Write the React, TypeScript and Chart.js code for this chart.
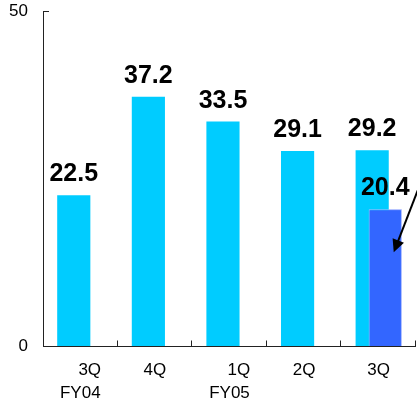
import React, { useEffect, useRef } from "react";
import { Chart, registerables } from "chart.js";

Chart.register(...registerables);

const categories: string[][] = [["    3Q", "FY04"], ["4Q"], ["    1Q", "FY05"], ["2Q"], ["3Q"]];
const mainValues: (number | null)[] = [22.5, 37.2, 33.5, 29.1, 29.2];
const subValues: (number | null)[] = [null, null, null, null, 20.4];
const yTicks: number[] = [0, 50];

const FONT = "'Liberation Sans', Arial, Helvetica, sans-serif";

const axesPlugin = {
  id: "customAxes",
  afterDraw(chart: any) {
    const ctx = chart.ctx;
    const area = chart.chartArea;
    const xs = chart.scales.x;
    const ys = chart.scales.y;
    ctx.save();
    ctx.strokeStyle = "#222";
    ctx.lineWidth = 1;
    const y0 = Math.round(ys.getPixelForValue(0)) + 0.5;
    const yTop = Math.round(ys.getPixelForValue(50)) + 0.5;
    const xl = Math.round(area.left) + 0.5;
    ctx.beginPath();
    ctx.moveTo(xl, yTop);
    ctx.lineTo(xl, y0);
    ctx.lineTo(area.right, y0);
    ctx.stroke();
    yTicks.forEach((v) => {
      const y = Math.round(ys.getPixelForValue(v)) + 0.5;
      ctx.beginPath();
      ctx.moveTo(area.left, y);
      ctx.lineTo(area.left + 6, y);
      ctx.stroke();
    });
    const n = categories.length;
    const step = xs.getPixelForValue(1) - xs.getPixelForValue(0);
    for (let i = 1; i <= n; i++) {
      let x = xs.getPixelForValue(i - 1) + step / 2;
      x = Math.round(x) - 0.5;
      ctx.beginPath();
      ctx.moveTo(x, y0);
      ctx.lineTo(x, y0 - 6);
      ctx.stroke();
    }
    ctx.restore();
  },
};

const labelPlugin = {
  id: "valueLabels",
  afterDatasetsDraw(chart: any) {
    const ctx = chart.ctx;
    // redraw highlighted bars on top of the main bars
    const subMeta = chart.getDatasetMeta(1);
    subMeta.data.forEach((el: any, i: number) => {
      if (subValues[i] !== null && subValues[i] !== undefined) el.draw(ctx);
    });
    ctx.save();
    ctx.font = `bold 25px ${FONT}`;
    ctx.fillStyle = "#000";
    ctx.textAlign = "center";
    ctx.textBaseline = "alphabetic";
    chart.data.datasets.forEach((ds: any, di: number) => {
      const meta = chart.getDatasetMeta(di);
      ds.data.forEach((v: number | null, i: number) => {
        if (v === null || v === undefined) return;
        const el = meta.data[i];
        ctx.fillText(v.toFixed(1), el.x, el.y - 14);
      });
    });
    const el = subMeta.data[4];
    if (el) {
      const tipX = el.x + 8.5;
      const tipY = el.y + 43;
      const sx = el.x + 34.5;
      const sy = el.y - 24;
      const ang = Math.atan2(tipY - sy, tipX - sx);
      const len = 14;
      const half = 0.45;
      ctx.strokeStyle = "#000";
      ctx.lineWidth = 2;
      ctx.beginPath();
      ctx.moveTo(sx, sy);
      ctx.lineTo(tipX - Math.cos(ang) * len * 0.8, tipY - Math.sin(ang) * len * 0.8);
      ctx.stroke();
      ctx.beginPath();
      ctx.moveTo(tipX, tipY);
      ctx.lineTo(tipX - len * Math.cos(ang - half), tipY - len * Math.sin(ang - half));
      ctx.lineTo(tipX - len * Math.cos(ang + half), tipY - len * Math.sin(ang + half));
      ctx.closePath();
      ctx.fillStyle = "#000";
      ctx.fill();
    }
    ctx.restore();
  },
};

export default function App() {
  const ref = useRef<HTMLCanvasElement>(null);
  useEffect(() => {
    if (!ref.current) return;
    const chart = new Chart(ref.current, {
      type: "bar",
      data: {
        labels: categories,
        datasets: [
          {
            label: "main",
            data: mainValues,
            backgroundColor: "#00CCFF",
            borderWidth: 0,
            categoryPercentage: 0.35,
            barPercentage: 2.54,
          },
          {
            label: "sub",
            data: subValues,
            backgroundColor: "#3366FF",
            borderColor: "#A8B8FF",
            borderWidth: 1,
            categoryPercentage: 0.35,
            barPercentage: 2.54,
          },
        ],
      },
      options: {
        animation: false,
        responsive: false,
        maintainAspectRatio: false,
        layout: { padding: { top: 11, right: 1, left: 0, bottom: 0 } },
        plugins: { legend: { display: false }, tooltip: { enabled: false } },
        scales: {
          x: {
            grid: { display: false, drawTicks: false },
            border: { display: false },
            ticks: {
              color: "#000",
              font: { family: FONT, size: 17, lineHeight: 1.4 },
              padding: 12,
              maxRotation: 0,
              autoSkip: false,
            },
            afterFit: (s: any) => {
              s.height = 58;
              s.paddingLeft = 0;
              s.paddingRight = 0;
            },
          },
          y: {
            min: 0,
            max: 50,
            grid: { display: false, drawTicks: false },
            border: { display: false },
            afterBuildTicks: (s: any) => {
              s.ticks = yTicks.map((v) => ({ value: v }));
            },
            ticks: {
              color: "#000",
              font: { family: FONT, size: 17 },
              padding: 15,
            },
            afterFit: (s: any) => {
              s.width = 43;
              s.paddingTop = 0;
              s.paddingBottom = 0;
            },
          },
        },
      },
      plugins: [axesPlugin, labelPlugin],
    });
    return () => chart.destroy();
  }, []);
  return (
    <div style={{ position: "absolute", left: 0, top: 0, width: 417, height: 404, background: "#fff" }}>
      <canvas ref={ref} width={417} height={404} style={{ width: 417, height: 404 }} />
    </div>
  );
}
